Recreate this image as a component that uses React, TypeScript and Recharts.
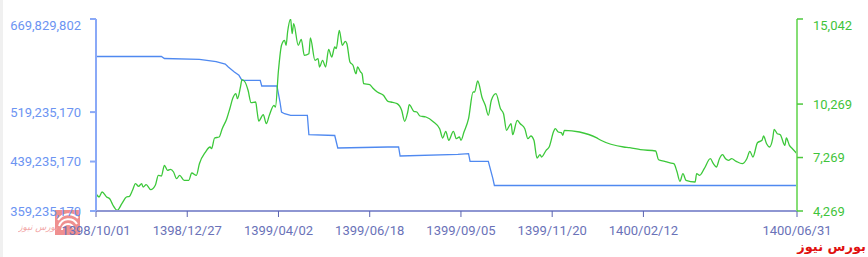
import { LineChart, Line, XAxis, YAxis } from 'recharts'

// trading-day index on the x axis, ticks every 60 sessions
const xTickPositions = [0, 60, 120, 180, 240, 300, 360, 461]
const xTickLabels = ['1398/10/01', '1398/12/27', '1399/04/02', '1399/06/18', '1399/09/05', '1399/11/20', '1400/02/12', '1400/06/31']

const leftTicks = [359235170, 439235170, 519235170, 669829802]
const rightTicks = [4269, 7269, 10269, 15042]

// green series (right axis)
const indexDays = [
  0, 2, 4, 7, 9, 11, 14, 17, 20, 22, 24, 26, 28, 30, 31, 33, 36, 39, 41, 43,
  45, 47, 49, 51, 53, 55, 58, 61, 63, 66, 68, 72, 75, 76, 78, 81, 83, 86, 88, 90,
  92, 93, 95, 96, 98, 100, 102, 105, 106, 107, 110, 112, 114, 117, 118, 120, 122, 124, 125, 126,
  128, 129, 130, 133, 135, 137, 140, 141, 144, 146, 147, 149, 151, 153, 155, 157, 158, 160, 162, 164,
  165, 167, 169, 171, 172, 174, 175, 176, 180, 182, 185, 189, 192, 194, 198, 201, 203, 205, 206, 209,
  211, 213, 217, 222, 226, 228, 230, 232, 235, 237, 239, 240, 242, 245, 248, 249, 251, 254, 256, 258,
  260, 263, 266, 268, 270, 272, 273, 274, 277, 279, 282, 284, 286, 288, 290, 292, 293, 296, 298, 301,
  302, 304, 306, 307, 308, 318, 329, 332, 347, 351, 358, 368, 370, 374, 377, 380, 382, 384, 386, 388,
  394, 395, 397, 400, 404, 406, 408, 410, 412, 414, 416, 418, 421, 425, 428, 430, 432, 435, 438, 439,
  441, 443, 445, 446, 448, 450, 453, 454, 456, 458, 461
]
const indexValues = [
  5240, 5055, 5335, 5055, 4959, 4622, 4308, 4679, 5055, 5094, 5430, 5801, 5655, 5801, 5616, 5745, 5464, 5711, 6272, 6233,
  6833, 6553, 6609, 6457, 6081, 6272, 5992, 5992, 6401, 6272, 6923, 7579, 7860, 7765, 8365, 8421, 8887, 9448, 10009, 10609,
  10851, 10570, 11227, 11636, 11507, 11041, 10346, 10385, 9824, 9319, 9672, 9167, 9639, 10200, 10104, 12164, 13566, 13847, 13566, 14313,
  15040, 14217, 14779, 13566, 13903, 13005, 13095, 13976, 12725, 12815, 12349, 12725, 12349, 13342, 12910, 13471, 13376, 14408, 13566, 13791,
  13656, 12629, 12444, 11973, 12349, 12068, 11973, 11412, 11356, 11171, 10946, 10761, 10424, 10385, 10290, 9919, 9302, 9824, 10233, 9863,
  9824, 9599, 9543, 9263, 8887, 8365, 8741, 8236, 8741, 8326, 8421, 8236, 8702, 9448, 10946, 10946, 11563, 10609, 10200, 9639,
  10480, 10851, 10009, 9729, 8797, 9078, 9167, 8550, 9358, 9167, 8887, 8326, 8477, 8236, 7243, 7428, 7299, 7675, 7860, 8741,
  8887, 8702, 8662, 8517, 8797, 8702, 8382, 8236, 7860, 7821, 7709, 7636, 7147, 7058, 6979, 6923, 6497, 5935, 6362, 5992,
  5896, 6362, 6272, 6642, 7204, 6923, 6738, 7204, 7428, 7204, 7114, 7204, 7058, 6923, 7204, 7619, 7299, 8101, 8236, 8477,
  8045, 7860, 8326, 8853, 8606, 8550, 7955, 8365, 7955, 7765, 7484
]

// blue series (left axis)
const capDays = [0, 43, 45, 68, 79, 85, 87, 91, 94, 96, 108, 109, 119, 121, 122, 124, 128, 139, 140, 157, 159, 192, 199, 200, 238, 245, 246, 258, 261, 262, 461]
const capValues = [
  609170000, 609170000, 605940000, 604650000, 600760000, 597030000, 592190000, 584100000, 578760000, 570670000,
  570670000, 561450000, 561450000, 535570000, 519390000, 516640000, 514050000, 514050000, 482670000, 481370000,
  461150000, 462770000, 462770000, 448210000, 450960000, 451930000, 439640000, 439640000, 411490000, 400490000,
  400490000
]

const greenData = indexDays.map((x, i) => ({ x, v: indexValues[i] }))
const blueData = capDays.map((x, i) => ({ x, v: capValues[i] }))

const fmt = (n: number) => n.toLocaleString('en-US')

const YTick = (props: any) => {
  const { x, y, payload, fill, anchor, top } = props
  // top label sits a little below its tick
  const shift = payload.value === top ? 6 : 0
  return (
    <text x={x} y={y + shift} dy="0.355em" textAnchor={anchor} fill={fill} fontSize={13} fontFamily="Roboto">
      {fmt(payload.value)}
    </text>
  )
}

export default function App() {
  return (
    <div style={{ position: 'absolute', left: 0, top: 0, width: 868, height: 257, background: '#fff', overflow: 'hidden' }}>
      <div style={{ position: 'absolute', left: 0, top: 0, width: 3, height: 257, background: '#f0f0f0' }} />

      {/* watermark, bottom left (drawn under the chart) */}
      <svg style={{ position: 'absolute', left: 18, top: 208 }} width={64} height={30}>
        <rect x={37} y={2} width={25} height={25} fill="#ef8f8f" />
        <path d="M44 22 A6 6 0 0 1 56 22" stroke="#fff" strokeWidth={2} fill="none" />
        <path d="M41 18 A10 10 0 0 1 59 16" stroke="#fff" strokeWidth={2} fill="none" />
        <path d="M40 12 A13 13 0 0 1 60 10" stroke="#fff" strokeWidth={2} fill="none" />
        <text x={20} y={22} textAnchor="middle" fontSize={9} fill="#f2a5a5" fontFamily="DejaVu Sans" fontStyle="italic">
          بورس نیوز
        </text>
      </svg>

      <LineChart width={868} height={257} margin={{ top: 19, right: 0, bottom: 0, left: 0 }}>
        <XAxis
          dataKey="x"
          type="number"
          domain={[0, 461]}
          ticks={xTickPositions}
          tickFormatter={(v: number) => xTickLabels[xTickPositions.indexOf(v)]}
          height={46}
          interval={0}
          axisLine={{ stroke: '#8e96d2', strokeWidth: 2 }}
          tickLine={{ stroke: '#5a62b0' }}
          tickSize={6}
          tickMargin={9}
          tick={{ fill: '#6a72b8', fontSize: 13, fontFamily: 'Roboto' }}
          allowDataOverflow
        />
        <YAxis
          yAxisId="left"
          width={96}
          domain={[359235170, 669829802]}
          ticks={leftTicks}
          interval={0}
          axisLine={{ stroke: '#8aa9f7', strokeWidth: 2 }}
          tickLine={{ stroke: '#8aa9f7', strokeWidth: 2 }}
          tickSize={6}
          tickMargin={9}
          tick={<YTick fill="#6c94f2" anchor="end" top={669829802} />}
          allowDataOverflow
        />
        <YAxis
          yAxisId="right"
          orientation="right"
          width={71}
          domain={[4269, 15042]}
          ticks={rightTicks}
          interval={0}
          axisLine={{ stroke: '#86de76', strokeWidth: 2 }}
          tickLine={{ stroke: '#4cc83c', strokeWidth: 1.5 }}
          tickSize={6}
          tickMargin={10}
          tick={<YTick fill="#3fc43a" anchor="start" top={15042} />}
          allowDataOverflow
        />
        <Line
          yAxisId="left"
          data={blueData}
          dataKey="v"
          type="linear"
          stroke="#4f89f0"
          strokeWidth={1.3}
          dot={false}
          isAnimationActive={false}
        />
        <Line
          yAxisId="right"
          data={greenData}
          dataKey="v"
          type="monotone"
          stroke="#3cc83a"
          strokeWidth={1.3}
          dot={false}
          isAnimationActive={false}
        />
      </LineChart>

      {/* watermark, bottom right */}
      <div
        style={{
          position: 'absolute',
          right: 2,
          top: 239,
          lineHeight: '15px',
          whiteSpace: 'nowrap',
          color: '#e01010',
          fontWeight: 'bold',
          fontSize: 13,
          fontFamily: 'DejaVu Sans',
          direction: 'rtl'
        }}
      >
        بورس نیوز
      </div>
    </div>
  )
}
